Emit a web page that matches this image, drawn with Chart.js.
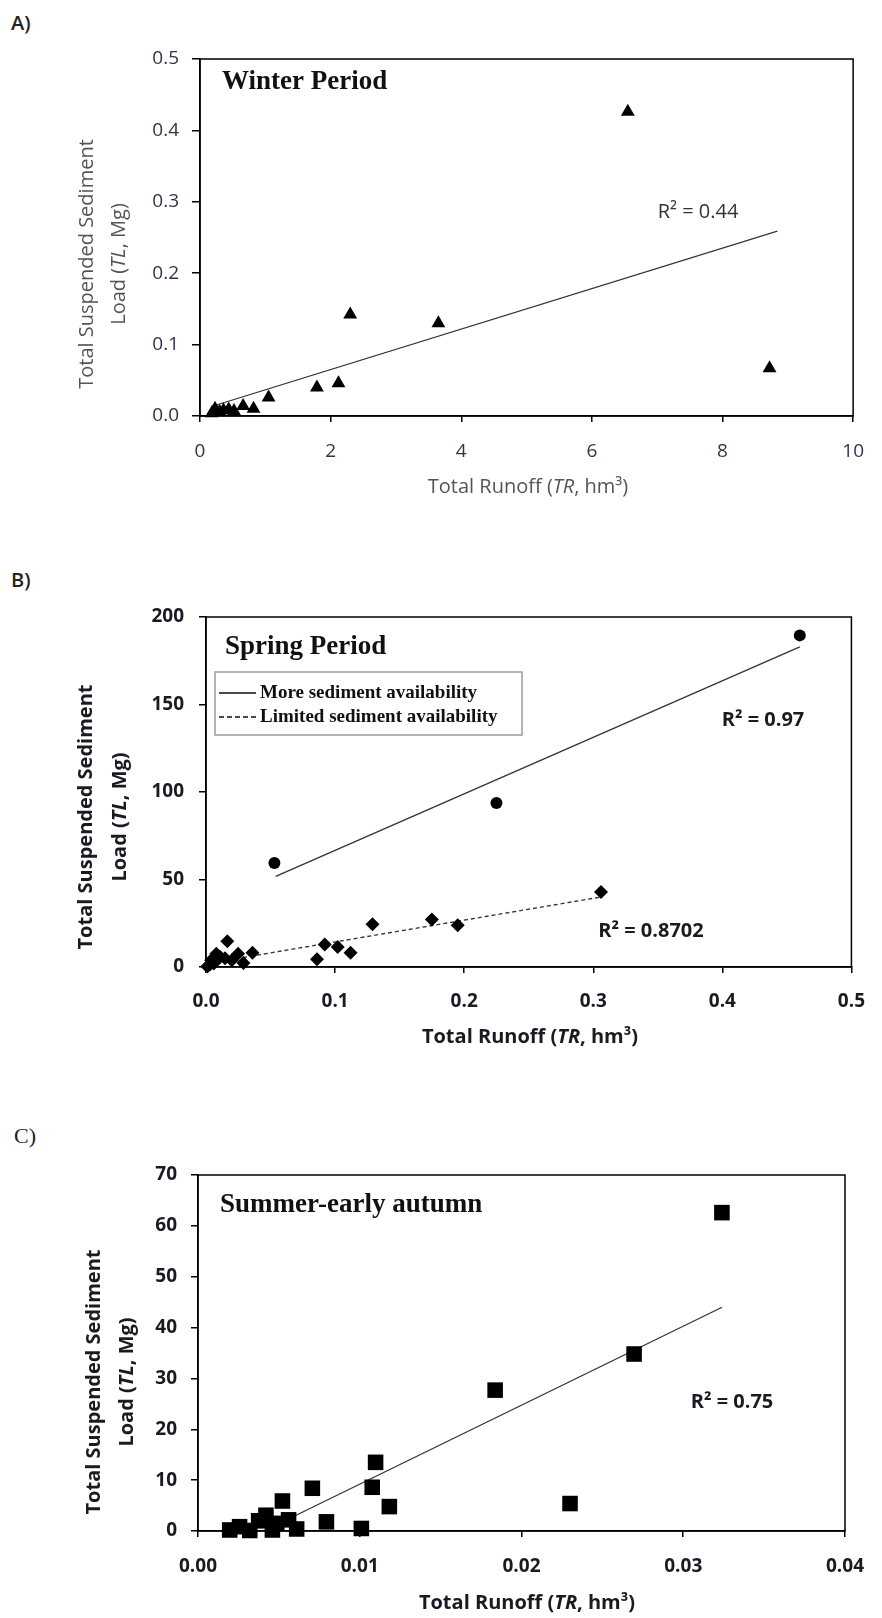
<!DOCTYPE html>
<html><head><meta charset="utf-8">
<script src="https://cdn.jsdelivr.net/npm/chart.js@4.4.1/dist/chart.umd.min.js"></script>
<style>
html,body{margin:0;padding:0;background:#fff;}
#wrap{position:relative;width:882px;height:1618px;overflow:hidden;background:#fff;}
canvas{position:absolute;left:0;}
.pl{position:absolute;font-family:"Open Sans";font-size:20px;font-weight:600;color:#222;line-height:24px;}
</style></head><body>
<div id="wrap">
<div class="pl" style="left:11px;top:11px">A)</div>
<div class="pl" style="left:11px;top:568px">B)</div>
<div class="pl" style="left:14px;top:1124px;font-family:'Liberation Serif';font-size:22px;font-weight:normal">C)</div>
<canvas id="cA" width="882" height="540" style="top:0px"></canvas>
<canvas id="cB" width="882" height="560" style="top:540px"></canvas>
<canvas id="cC" width="882" height="518" style="top:1100px"></canvas>
</div>
<script>
// ---------- DATA ----------
// Panel A: Winter period
const winterTR = [0.18, 0.23, 0.30, 0.36, 0.44, 0.52, 0.66, 0.82, 1.05, 1.79, 2.12, 2.30, 3.65, 6.55, 8.72];
const winterTL = [0.004, 0.010, 0.006, 0.008, 0.009, 0.007, 0.014, 0.010, 0.026, 0.040, 0.046, 0.142, 0.130, 0.426, 0.067];
const winterFitTR = [0.2, 8.84];
const winterFitTL = [0.014, 0.259];

// Panel B: Spring period
const springMoreTR = [0.053, 0.225, 0.460];
const springMoreTL = [59.4, 93.7, 189.5];
const springLimTR = [0.001, 0.003, 0.004, 0.006, 0.008, 0.011, 0.0147, 0.0165, 0.020, 0.0249, 0.029, 0.036, 0.086, 0.092, 0.102, 0.112, 0.129, 0.175, 0.195, 0.306];
const springLimTL = [0.3, 1.5, 3.8, 2.0, 7.6, 5.7, 5.0, 14.7, 3.8, 7.6, 2.3, 8.2, 4.4, 12.8, 11.4, 8.2, 24.4, 27.1, 23.8, 42.9];
const springMoreFitTR = [0.054, 0.46];
const springMoreFitTL = [51.8, 182.9];
const springLimFitTR = [0.002, 0.306];
const springLimFitTL = [2.1, 40.0];

// Panel C: Summer-early autumn
const summerTR = [0.00196, 0.00257, 0.0032, 0.00375, 0.0042, 0.0046, 0.00487, 0.00522, 0.0056, 0.0061, 0.00707, 0.00794, 0.0101, 0.01077, 0.01098, 0.01183, 0.01837, 0.0230, 0.02696, 0.03239];
const summerTL = [0.2, 0.85, 0.1, 2.0, 3.1, 0.2, 1.5, 5.9, 2.2, 0.4, 8.4, 1.8, 0.5, 8.6, 13.5, 4.8, 27.7, 5.4, 34.8, 62.6];
const summerFitTR = [0.006, 0.0324];
const summerFitTL = [3.0, 44.0];

// Tick labels
const xTicksA = ['0', '2', '4', '6', '8', '10'];
const yTicksA = ['0.0', '0.1', '0.2', '0.3', '0.4', '0.5'];
const xTicksB = ['0.0', '0.1', '0.2', '0.3', '0.4', '0.5'];
const yTicksB = ['0', '50', '100', '150', '200'];
const xTicksC = ['0.00', '0.01', '0.02', '0.03', '0.04'];
const yTicksC = ['0', '10', '20', '30', '40', '50', '60', '70'];

// Texts
const r2A = 'R² = 0.44';
const r2Bmore = 'R² = 0.97';
const r2Blim = 'R² = 0.8702';
const r2C = 'R² = 0.75';

// ---------- HELPERS ----------
const pts = (xs, ys) => xs.map((x, i) => ({x: x, y: ys[i]}));
const SANS = '"Open Sans"';
const SERIF = '"Liberation Serif"';

function rich(ctx, segs, x, y, base, align, rot) {
  ctx.save();
  ctx.translate(x, y);
  if (rot) ctx.rotate(rot);
  ctx.fillStyle = base.color;
  ctx.textBaseline = 'middle';
  ctx.textAlign = 'left';
  const fonts = segs.map(s => (s.it ? 'italic ' : '') + (base.weight || 'normal') + ' ' + base.size + 'px ' + base.family);
  let w = 0;
  const ws = segs.map((s, i) => { ctx.font = fonts[i]; const m = ctx.measureText(s.t).width; w += m; return m; });
  let cx = align === 'left' ? 0 : (align === 'right' ? -w : -w / 2);
  segs.forEach((s, i) => { ctx.font = fonts[i]; ctx.fillText(s.t, cx, 0); cx += ws[i]; });
  ctx.restore();
}

const xTitleSegs = [{t: 'Total Runoff ('}, {t: 'TR', it: true}, {t: ', hm³)'}];
const yTitle1 = [{t: 'Total Suspended Sediment'}];
const yTitle2 = [{t: 'Load ('}, {t: 'TL', it: true}, {t: ', Mg)'}];

const deco = {};
const decoPlugin = {
  id: 'decoBox',
  beforeDatasetsDraw(chart) {
    const a = chart.chartArea, ctx = chart.ctx;
    ctx.save();
    ctx.strokeStyle = '#000';
    ctx.lineWidth = 1.5;
    ctx.strokeRect(a.left, a.top, a.right - a.left, a.bottom - a.top);
    ctx.restore();
  },
  afterDraw(chart) {
    const d = deco[chart.canvas.id];
    if (!d) return;
    const ctx = chart.ctx;
    const base = {size: d.titleSize, weight: d.titleWeight, family: SANS, color: d.titleColor};
    rich(ctx, yTitle1, d.yT1x, d.yTcy, base, 'center', -Math.PI / 2);
    rich(ctx, yTitle2, d.yT2x, d.yTcy, base, 'center', -Math.PI / 2);
    rich(ctx, xTitleSegs, d.xTcx, d.xTcy, base, 'center', 0);
    rich(ctx, [{t: d.period}], d.periodX, d.periodY, {size: 27, weight: 'bold', family: SERIF, color: '#111'}, 'left', 0);
    d.notes.forEach(n => rich(ctx, [{t: n.t}], n.x, n.y, {size: 20, weight: d.titleWeight, family: SANS, color: d.noteColor}, 'center', 0));
    if (d.legend) {
      const L = d.legend;
      ctx.save();
      ctx.strokeStyle = '#9a9a9a';
      ctx.lineWidth = 1.5;
      ctx.strokeRect(L.x, L.y, L.w, L.h);
      ctx.strokeStyle = '#111';
      ctx.lineWidth = 1.5;
      L.rows.forEach(r => {
        ctx.setLineDash(r.dash || []);
        ctx.beginPath();
        ctx.moveTo(L.x + 4, r.y);
        ctx.lineTo(L.x + 41, r.y);
        ctx.stroke();
        rich(ctx, [{t: r.t}], L.x + 45, r.y, {size: 19, weight: 'bold', family: SERIF, color: '#111'}, 'left', 0);
      });
      ctx.setLineDash([]);
      ctx.restore();
    }
  }
};
Chart.register(decoPlugin);

function scale(axis, labels, o) {
  const vals = labels.map(Number);
  return {
    type: 'linear',
    min: vals[0],
    max: vals[vals.length - 1],
    afterBuildTicks: s => { s.ticks = vals.map(v => ({value: v})); },
    afterFit: s => { if (axis === 'y') s.width = o.size; else s.height = o.size; },
    ticks: {
      callback: (v, i) => labels[i],
      font: {family: 'Open Sans', size: o.fs, weight: o.fw},
      color: o.color,
      padding: o.pad,
      autoSkip: false,
      maxRotation: 0
    },
    grid: {drawOnChartArea: false, drawTicks: true, tickLength: o.tl, color: '#000', lineWidth: 1.5},
    border: {display: true, color: '#000', width: 1.5},
    title: {display: false}
  };
}

function trend(xs, ys, dash) {
  return {type: 'line', data: pts(xs, ys), showLine: true, borderColor: '#333', borderWidth: 1.3,
    borderDash: dash || [], pointRadius: 0, fill: false, order: 5, clip: false};
}
function marks(xs, ys, style, r) {
  return {data: pts(xs, ys), pointStyle: style, pointRadius: r, pointHoverRadius: r,
    backgroundColor: '#000', borderColor: '#000', borderWidth: 0, order: 1, clip: false, showLine: false};
}

function make(id, datasets, xs, ys, pad) {
  new Chart(document.getElementById(id), {
    type: 'scatter',
    data: {datasets: datasets},
    options: {
      responsive: false, animation: false, devicePixelRatio: 1,
      layout: {padding: pad},
      plugins: {legend: {display: false}, tooltip: {enabled: false}},
      scales: {x: xs, y: ys}
    }
  });
}

// ---------- PANEL A ----------
deco.cA = {titleSize: 20, titleWeight: 'normal', titleColor: '#555', noteColor: '#333',
  yT1x: 87.5, yT2x: 119, yTcy: 264, xTcx: 528, xTcy: 487,
  period: 'Winter Period', periodX: 222, periodY: 82,
  notes: [{t: r2A, x: 698, y: 212}]};
make('cA', [
  trend(winterFitTR, winterFitTL),
  marks(winterTR, winterTL, 'triangle', 8)
],
  scale('x', xTicksA, {size: 60, fs: 19, fw: 'normal', color: '#33334a', pad: 18, tl: 6}),
  scale('y', yTicksA, {size: 200, fs: 19, fw: 'normal', color: '#33334a', pad: 13, tl: 8}),
  {left: 0, right: 27, top: 59, bottom: 64});

// ---------- PANEL B ----------
deco.cB = {titleSize: 20, titleWeight: 'bold', titleColor: '#1a1a22', noteColor: '#1a1a22',
  yT1x: 86.5, yT2x: 120, yTcy: 277, xTcx: 530, xTcy: 497,
  period: 'Spring Period', periodX: 225, periodY: 107,
  notes: [{t: r2Bmore, x: 763, y: 180}, {t: r2Blim, x: 651, y: 391}],
  legend: {x: 215, y: 132, w: 307, h: 63, rows: [
    {t: 'More sediment availability', y: 153},
    {t: 'Limited sediment availability', y: 177, dash: [5, 3]}
  ]}};
make('cB', [
  trend(springMoreFitTR, springMoreFitTL),
  trend(springLimFitTR, springLimFitTL, [4, 3]),
  marks(springMoreTR, springMoreTL, 'circle', 6),
  marks(springLimTR, springLimTL, 'rectRot', 7)
],
  scale('x', xTicksB, {size: 60, fs: 19, fw: 'bold', color: '#1a1a22', pad: 17, tl: 6}),
  scale('y', yTicksB, {size: 206, fs: 19, fw: 'bold', color: '#1a1a22', pad: 15, tl: 7}),
  {left: 0, right: 29, top: 77, bottom: 73});

// ---------- PANEL C ----------
deco.cC = {titleSize: 20, titleWeight: 'bold', titleColor: '#1a1a22', noteColor: '#1a1a22',
  yT1x: 94, yT2x: 127, yTcy: 282, xTcx: 527, xTcy: 503,
  period: 'Summer-early autumn', periodX: 220, periodY: 105,
  notes: [{t: r2C, x: 732, y: 302}]};
make('cC', [
  trend(summerFitTR, summerFitTL),
  marks(summerTR, summerTL, 'rect', 11)
],
  scale('x', xTicksC, {size: 60, fs: 19, fw: 'bold', color: '#1a1a22', pad: 18, tl: 6}),
  scale('y', yTicksC, {size: 198, fs: 19, fw: 'bold', color: '#1a1a22', pad: 14, tl: 7}),
  {left: 0, right: 28, top: 75, bottom: 27});
</script>
</body></html>
